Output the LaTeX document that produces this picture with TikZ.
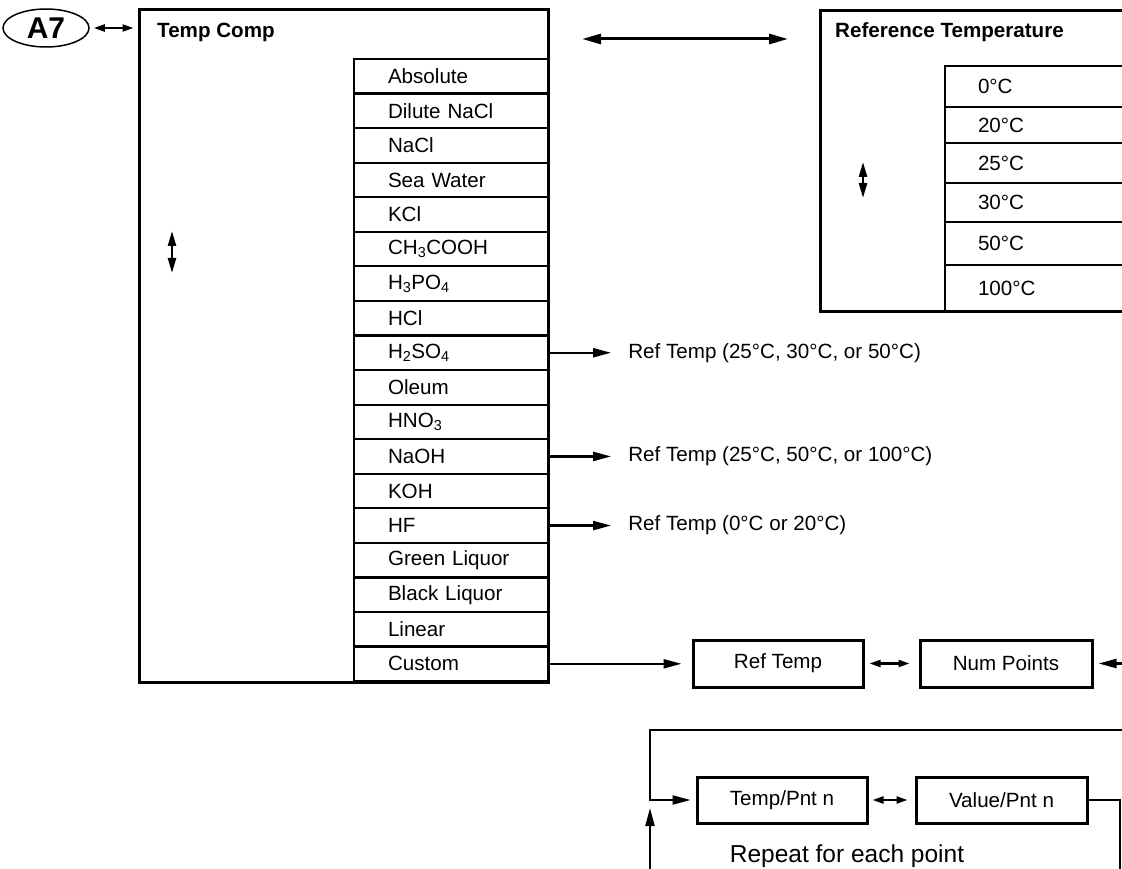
\documentclass[tikz,border=0pt]{standalone}
\usepackage{fontspec}
\setmainfont{Liberation Sans}
\usetikzlibrary{arrows.meta, positioning, calc, shapes.geometric}

\tikzset{
  menu/.style={draw, line width=3pt},
  item/.style={draw, line width=2.2pt, minimum width=194pt, minimum height=34.56pt,
    text width=126pt, align=left, inner sep=0pt},
  refitem/.style={draw, line width=2.2pt, minimum width=195pt, text width=129pt,
    align=left, inner sep=0pt},
  box/.style={draw, line width=3pt, minimum height=47pt, inner sep=0pt},
  title/.style={anchor=west, inner sep=0pt, font=\fontsize{20.6pt}{24pt}\selectfont\bfseries},
  note/.style={anchor=west, inner xsep=17pt, inner ysep=0pt},
  conn/.style={line width=2.2pt, -{Triangle[length=18pt, width=9pt]}},
  longboth/.style={line width=3pt, {Triangle[length=19pt, width=10pt]}-{Triangle[length=19pt, width=10pt]}},
  bothway/.style={line width=2.2pt, {Triangle[length=11pt, width=7pt]}-{Triangle[length=11pt, width=7pt]}},
  updown/.style={line width=2.4pt, {Triangle[length=15pt, width=8pt]}-{Triangle[length=15pt, width=8pt]}},
}

\begin{document}
\begin{tikzpicture}[x=1pt, y=-1pt, font=\fontsize{20.6pt}{24pt}\selectfont]
  \useasboundingbox (0,0) rectangle (1122,869);
  % A7 entry
  \node[draw, ellipse, line width=1.5pt, minimum width=86pt, minimum height=38pt, inner sep=0pt,
    font=\fontsize{30pt}{32pt}\selectfont\bfseries] (a7) at (46,28) {A7};
  % Temp Comp menu
  \node[menu, minimum width=409pt, minimum height=672pt] (tc) at (343.5,346) {};
  \node[title] (tctitle) at (157,32) {Temp Comp};
  \draw[bothway, shorten <=4pt, shorten >=4pt] (a7.east) -- (a7.east -| tc.west);
  \foreach \t [count=\i] in {Absolute, Dilute NaCl, NaCl, Sea Water, KCl,
      CH\textsubscript{3}COOH, H\textsubscript{3}PO\textsubscript{4}, HCl,
      H\textsubscript{2}SO\textsubscript{4}, Oleum, HNO\textsubscript{3}, NaOH, KOH, HF,
      Green Liquor, Black Liquor, Linear, Custom} {
    \node[item] (r\i) at (451, {59+34.56*\i-17.28}) {\t};
  }
  \coordinate (tcup) at (172,231);
  \coordinate (tcdown) at (172,273);
  \draw[updown] (tcup) -- (tcdown);
  % Reference Temperature menu
  \draw[menu] (1130,11) -| (820,311) -- (1130,311);
  \node[title] (rttitle) at (835,32) {Reference Temperature};
  \foreach \a/\b/\t [count=\i] in {66/107/0°C, 107/143/20°C, 143/183/25°C,
      183/222/30°C, 222/265/50°C, 265/311/100°C} {
    \node[refitem, minimum height={(\b-\a)*1pt}] (t\i) at (1042.5, {(\a+\b)/2}) {\t};
  }
  \coordinate (rtup) at (863,162);
  \coordinate (rtdown) at (863,198);
  \draw[updown] (rtup) -- (rtdown);
  \coordinate (navleft) at (582,39);
  \coordinate (navright) at (788,39);
  \draw[longboth] (navleft) -- (navright);
  % Ref temp choices
  \node[note, right=62pt of r9] (n9) {Ref Temp (25°C, 30°C, or 50°C)};
  \node[note, right=62pt of r12] (n12) {Ref Temp (25°C, 50°C, or 100°C)};
  \node[note, right=62pt of r14] (n14) {Ref Temp (0°C or 20°C)};
  \foreach \i in {9,12,14} {
    \draw[conn] (r\i.east) -- (n\i.west);
  }
  % Custom table
  \node[box, minimum width=170pt] (reft) at (778,663.5) {Ref Temp};
  \node[box, minimum width=172pt] (nump) at (1006,663.5) {Num Points};
  \coordinate (numin) at (1130,663.5);
  \draw[conn, shorten >=10pt] (r18.east) -- (r18.east -| reft.west);
  \draw[bothway, shorten <=5pt, shorten >=9pt] (reft) -- (nump);
  \draw[conn, shorten >=5pt] (numin) -- (nump.east);
  % Repeat loop
  \node[box, minimum width=170pt, minimum height=46pt] (tp) at (782,800) {Temp/Pnt n};
  \node[box, minimum width=171pt, minimum height=46pt] (vp) at (1001.5,800) {Value/Pnt n};
  \node[font=\fontsize{24.5pt}{28pt}\selectfont] (rep) at (847,856) {Repeat for each point};
  \coordinate (loopin) at (1130,730);
  \coordinate (loopcorner) at (650,730);
  \coordinate (loopout) at (1120,880);
  \coordinate (loopbase) at (650,880);
  \coordinate (looptip) at (650,808);
  \draw[conn, shorten >=5pt] (loopin) -- (loopcorner) |- (tp.west);
  \draw[bothway, shorten <=4pt, shorten >=7pt] (tp) -- (vp);
  \draw[line width=2.2pt] (vp.east) -| (loopout);
  \draw[conn] (loopbase) -- (looptip);
\end{tikzpicture}
\end{document}
